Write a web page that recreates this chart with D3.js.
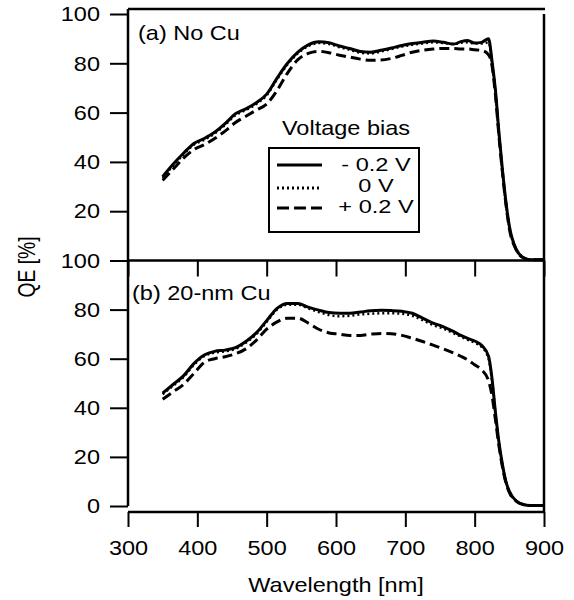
<!DOCTYPE html>
<html>
<head>
<meta charset="utf-8">
<script src="https://cdn.jsdelivr.net/npm/d3@7"></script>
<style>
  body { margin: 0; background: #fff; }
  text { font-family: "Liberation Sans", Arial, sans-serif; font-size: 21px; fill: #000; }
</style>
</head>
<body>
<script>
// wavelength grid (nm)
const wavelength = [350,365,380,395,410,425,440,455,470,485,500,515,530,545,560,575,590,605,620,635,650,665,680,695,710,725,740,755,770,780,790,800,810,820,825,830,835,840,845,850,860,870,880,900];

// (a) No Cu
const noCuNeg  = [34,39,43.5,47.5,49.5,52,55.5,59.5,61.5,64,67.5,74,80,84.5,87.5,88.7,88.3,87,86,84.8,84.5,85.3,86.2,87.2,88,88.5,89,88.5,87.8,88.8,89.3,88.2,88.5,90,81,69,52,37,24,14,4.5,1.2,0.3,0.3];
const noCuZero = [33.5,38.5,43,47,49,51.5,55,59,61,63.5,67,73.5,79.5,84,87,88.2,87.8,86.5,85.5,84.3,84,84.8,85.8,86.8,87.5,88,88.5,88.2,87.8,88.3,88.5,88,88,88.5,80,68,51,36,23.5,13.5,4.5,1.2,0.3,0.3];
const noCuPos  = [32.5,37,41.5,45,47,49.5,52.5,56,58.5,61,63.5,69,76,81.5,84,84.8,84.3,83.3,82.5,81.7,81.2,81.3,82,83.2,84.5,85.3,85.8,86,86,85.8,85.8,85.5,85.2,83.5,79,67,50.5,36,23,13,4.3,1.1,0.3,0.3];

// (b) 20-nm Cu
const cuNeg  = [46,49.5,53,58,61.5,63,63.5,64.5,67,70.5,75.5,80.5,82.5,82.5,81,79.8,78.8,78.5,78.5,79,79.5,79.7,79.6,79.3,78.5,76.5,74.5,73,71,69.5,68.3,67.2,65.5,61,52,38,26,17,10,6,2,0.6,0.2,0.2];
const cuZero = [45.5,49,52.5,57.5,61,62.5,63,64,66.5,70,75,80,82,82,80.5,79,77.8,77.3,77.5,78,78.3,78.5,78.5,78.3,77.5,75.7,73.7,72.2,70.3,69,67.7,66.5,64.8,60,51,37.5,25.5,16.5,10,6,2,0.6,0.2,0.2];
const cuPos  = [43.5,46.5,49.5,54,58.5,60,60.8,62,64,67.5,72,75,76.5,76.5,74.5,72,70.5,70,69.5,69.5,70,70.3,70.2,69.5,68.3,67,65.5,64,62.3,61,59.5,57.5,55.5,51,45,35,24.5,16,9.5,5.5,2,0.6,0.2,0.2];

const xTicks = [300,400,500,600,700,800,900];
const yTicksTop = [20,40,60,80,100];
const yTicksBot = [0,20,40,60,80,100];
const biasLabels = ["- 0.2 V", "0 V", "+ 0.2 V"];

const width = 574, height = 600;
const sx = 1.12; // text in the picture is a bit wide

const svg = d3.select("body").append("svg")
  .attr("width", width)
  .attr("height", height);

const x = d3.scaleLinear().domain([300, 900]).range([128, 544]);
const yTop = d3.scaleLinear().domain([0, 100]).range([260.5, 14]);
const yBot = d3.scaleLinear().domain([0, 100]).range([506, 260.5]);

const styles = [
  { w: 3, dash: null },
  { w: 2.5, dash: "2,3" },
  { w: 3, dash: "10,5" }
];

function drawPanel(y, series) {
  const line = d3.line()
    .x(d => x(d[0]))
    .y(d => y(d[1]))
    .curve(d3.curveMonotoneX);
  [1, 0, 2].forEach(i => {
    svg.append("path")
      .datum(wavelength.map((w, j) => [w, series[i][j]]))
      .attr("d", line)
      .attr("fill", "none")
      .attr("stroke", "#000")
      .attr("stroke-width", styles[i].w)
      .attr("stroke-dasharray", styles[i].dash)
      .attr("stroke-linejoin", "round");
  });
}

drawPanel(yTop, [noCuNeg, noCuZero, noCuPos]);
drawPanel(yBot, [cuNeg, cuZero, cuPos]);

function styleAxis(g) {
  g.selectAll("line").attr("stroke", "#000").attr("stroke-width", 2);
  g.select(".domain").remove();
}

// left axes
const leftTop = svg.append("g").attr("transform", "translate(128,0)")
  .call(d3.axisLeft(yTop).tickValues(yTicksTop).tickSize(18).tickPadding(10).tickSizeOuter(0));
const leftBot = svg.append("g").attr("transform", "translate(128,0)")
  .call(d3.axisLeft(yBot).tickValues(yTicksBot).tickSize(18).tickPadding(10).tickSizeOuter(0));
[leftTop, leftBot].forEach(g => {
  styleAxis(g);
  g.selectAll("text")
    .attr("font-size", null)
    .attr("font-family", null)
    .attr("transform", `scale(${sx},1)`)
    .attr("x", -28 / sx);
});

// bottom axis (offset below the plot)
const bottom = svg.append("g").attr("transform", "translate(0,512)")
  .call(d3.axisBottom(x).tickValues(xTicks).tickSize(15).tickPadding(13).tickSizeOuter(0));
styleAxis(bottom);
bottom.selectAll("text")
  .attr("font-size", null)
  .attr("font-family", null)
  .attr("transform", `scale(${sx},1)`);

// axis between the panels, ticks pointing down
const middle = svg.append("g").attr("transform", "translate(0,260.5)")
  .call(d3.axisBottom(x).tickValues(xTicks).tickSize(16).tickFormat("").tickSizeOuter(0));
styleAxis(middle);

// frame lines
const frame = [
  [x(300), 9, x(300), yBot(0)],
  [x(300), 9, x(900) + 1, 9],
  [x(900), 14, x(900), 512],
  [x(300), 260.5, x(900), 260.5],
  [x(300), 512, x(900), 512]
];
svg.selectAll(".frame")
  .data(frame)
  .enter()
  .append("line")
  .attr("x1", d => d[0]).attr("y1", d => d[1])
  .attr("x2", d => d[2]).attr("y2", d => d[3])
  .attr("stroke", "#000")
  .attr("stroke-width", 2.5);

function label(txt, px, py, anchor, size, scale) {
  svg.append("text")
    .attr("transform", `translate(${px},${py}) scale(${scale || sx},1)`)
    .attr("text-anchor", anchor)
    .style("font-size", size ? size + "px" : null)
    .text(txt);
}

label("(a) No Cu", 138, 40, "start");
label("(b) 20-nm Cu", 132, 300, "start");
label("Wavelength [nm]", 336, 592, "middle");

svg.append("text")
  .attr("transform", "translate(35,267) rotate(-90) scale(0.92,1.12)")
  .attr("text-anchor", "middle")
  .text("QE [%]");

// legend
label("Voltage bias", 346, 135, "middle");
svg.append("rect")
  .attr("x", 269).attr("y", 148)
  .attr("width", 150).attr("height", 84)
  .attr("fill", "none")
  .attr("stroke", "#000")
  .attr("stroke-width", 2);

const legY = [165, 188, 208];
const legTextY = [171, 192, 213];
biasLabels.forEach((t, i) => {
  svg.append("line")
    .attr("x1", 277).attr("x2", 322)
    .attr("y1", legY[i]).attr("y2", legY[i])
    .attr("stroke", "#000")
    .attr("stroke-width", styles[i].w + (i === 1 ? 0.5 : 0))
    .attr("stroke-dasharray", i === 2 ? "12,5" : styles[i].dash);
  label(t, 376, legTextY[i], "middle", 19, 1.24);
});
</script>
</body>
</html>
